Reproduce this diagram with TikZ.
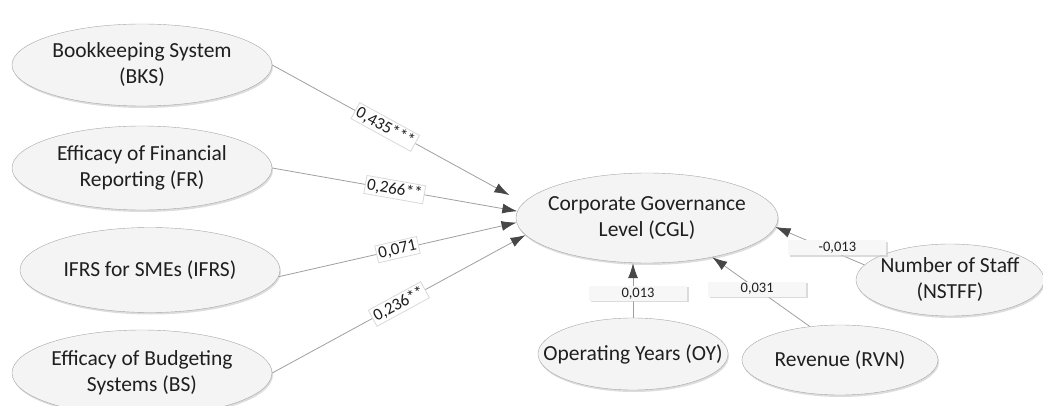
\documentclass[tikz,border=0pt]{standalone}
\usepackage{fontspec}
\setmainfont{Carlito}
\usetikzlibrary{shapes.geometric,arrows.meta,shadows}
\begin{document}
\begin{tikzpicture}[x=1pt,y=-1pt,
  lat/.style={ellipse, draw=gray!70, fill=gray!9, inner sep=0pt,
    drop shadow={shadow xshift=1pt, shadow yshift=-2pt, fill=gray!45, opacity=0.6}},
  lattext/.style={align=center, text=black!88, inner sep=0pt,
    font=\fontsize{21.5}{26}\selectfont},
  conn/.style={draw=gray!75, line width=0.8pt,
    -{Latex[length=15pt,width=10pt,color=black!72]}},
  coef/.style={fill=white, draw=gray!30, inner sep=2pt, sloped, text=black!88,
    font=\fontsize{17}{17}\selectfont},
  ctrl/.style={fill=gray!6, minimum width=98pt, minimum height=15pt, inner sep=0pt,
    text=black!88, font=\fontsize{14.5}{14.5}\selectfont,
    drop shadow={shadow xshift=1.5pt, shadow yshift=-1.5pt, fill=gray!40, opacity=0.7}}
]
\useasboundingbox (0,0) rectangle (1043,406);

\node[lat, minimum width=260pt, minimum height=82pt,
  label={[lattext]center:Bookkeeping System\\(BKS)}] (BKS) at (142,65) {};
\node[lat, minimum width=260pt, minimum height=84pt,
  label={[lattext]center:Efficacy of Financial\\Reporting (FR)}] (FR) at (142,168) {};
\node[lat, minimum width=260pt, minimum height=85pt,
  label={[lattext]center:IFRS for SMEs (IFRS)}] (IFRS) at (150,270) {};
\node[lat, minimum width=260pt, minimum height=86pt,
  label={[lattext]center:Efficacy of Budgeting\\Systems (BS)}] (BS) at (142,373) {};
\node[lat, minimum width=262pt, minimum height=90pt,
  label={[lattext]center:Corporate Governance\\Level (CGL)}] (CGL) at (647,218) {};
\node[lat, minimum width=190pt, minimum height=72pt,
  label={[lattext]center:Operating Years (OY)}] (OY) at (633,354) {};
\node[lat, minimum width=196pt, minimum height=70pt,
  label={[lattext]center:Revenue (RVN)}] (RVN) at (840,360) {};
\node[lat, minimum width=188pt, minimum height=72pt,
  label={[lattext]center:Number of Staff\\(NSTFF)}] (NSTFF) at (950,280) {};

\draw[conn, shorten >=16pt] (BKS.east) -- (CGL.173) node[coef, pos=0.45] {0,435***};
\draw[conn] (FR.east) -- (CGL.177) node[coef, pos=0.5] {0,266**};
\draw[conn] (IFRS.-3) -- (CGL.182) node[coef, pos=0.5] {0,071};
\draw[conn] (BS.east) -- (CGL.188) node[coef, pos=0.5] {0,236**};

\draw[conn] (OY.north) -- (OY.north |- CGL.south)
  node[ctrl, pos=0.45, xshift=5pt] {0,013};
\draw[conn] (RVN.132) -- (CGL.-31) node[ctrl, pos=0.54] {0,031};
\draw[conn] (NSTFF.170) -- (CGL.-4) node[ctrl, pos=0.45, xshift=13pt] {-0,013};
\end{tikzpicture}
\end{document}
